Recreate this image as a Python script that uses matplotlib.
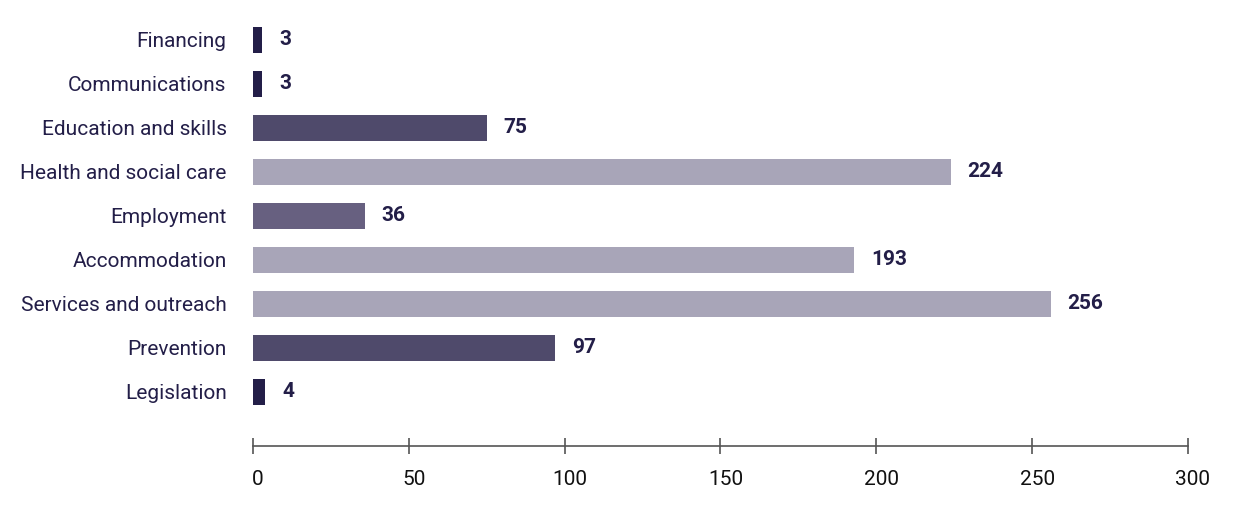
import matplotlib.pyplot as plt
from matplotlib.transforms import ScaledTranslation

categories = ["Legislation", "Prevention", "Services and outreach", "Accommodation",
              "Employment", "Health and social care", "Education and skills",
              "Communications", "Financing"]
values = [4, 97, 256, 193, 36, 224, 75, 3, 3]
colors = ["#231e48", "#4f4a6b", "#a8a5b8", "#a8a5b8", "#676080",
          "#a8a5b8", "#4f4a6b", "#231e48", "#231e48"]
xticks = [0, 50, 100, 150, 200, 250, 300]

plt.rcParams['font.family'] = ['Roboto', 'DejaVu Sans']

fig = plt.figure(figsize=(12.4, 5.29), dpi=100)
ax = fig.add_axes([0.204, 0.157, 0.754, 0.809])

ypos = list(range(len(categories)))
ax.barh(ypos, values, height=0.6, color=colors)
for y, v in zip(ypos, values):
    ax.annotate(str(v), (v, y), xytext=(12, 0), textcoords='offset points',
                va='center', ha='left', fontsize=15, fontweight='bold', color='#231e48')

ax.set_xlim(0, 300)
ax.set_ylim(-1.227, 8.5)
ax.set_xticks(xticks)
ax.set_yticks(ypos)
ax.set_yticklabels(categories)

for s in ['top', 'right', 'left']:
    ax.spines[s].set_visible(False)
ax.spines['bottom'].set_color('#555555')
ax.spines['bottom'].set_linewidth(1.2)
ax.tick_params(axis='x', direction='inout', length=12, width=1.2, color='#555555',
               pad=11, labelsize=15, labelcolor='#111111')
ax.tick_params(axis='y', length=0, pad=19, labelsize=15, labelcolor='#231e48')

shift = ScaledTranslation(5 / 100, 0, fig.dpi_scale_trans)
for lab in ax.get_xticklabels():
    lab.set_transform(lab.get_transform() + shift)

fig.savefig('out.png', dpi=100)
